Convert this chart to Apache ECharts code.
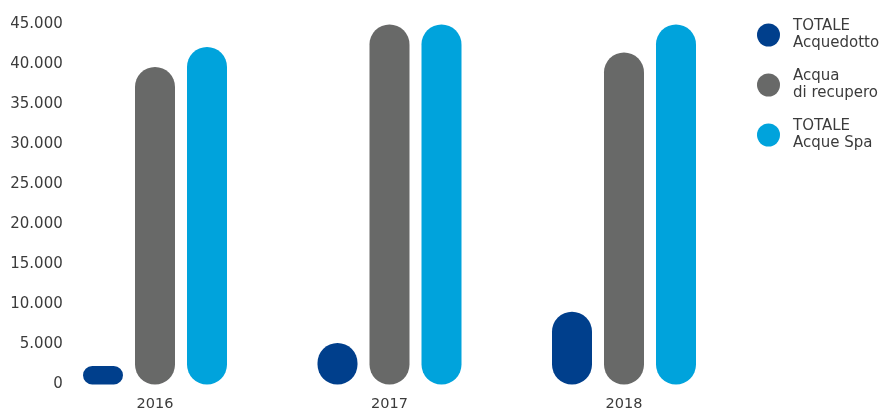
<!DOCTYPE html>
<html>
<head>
<meta charset="utf-8">
<script src="https://cdn.jsdelivr.net/npm/echarts@6/dist/echarts.min.js"></script>
<style>
  html, body { margin: 0; padding: 0; background: #ffffff; }
  #chart { width: 883px; height: 408px; }
</style>
</head>
<body>
<div id="chart"></div>
<script>
// Water volumes by year
const years = ['2016', '2017', '2018'];
const seriesNames = ['TOTALE\nAcquedotto', 'Acqua\ndi recupero', 'TOTALE\nAcque Spa'];
const acquedotto = [2300, 5200, 9100];
const recupero = [39700, 45000, 41500];
const acqueSpa = [42200, 45000, 45000];
const yTicks = [0, 5000, 10000, 15000, 20000, 25000, 30000, 35000, 40000, 45000];
const colors = ['#003f8c', '#686968', '#00a3dc'];

const textColor = '#3b3b3b';
const fontFamily = 'DejaVu Sans';

function fmt(v) {
  return String(v).replace(/\B(?=(\d{3})+(?!\d))/g, '.');
}

const valuesBySeries = [acquedotto, recupero, acqueSpa];

const chart = echarts.init(document.getElementById('chart'), null, { renderer: 'canvas' });
chart.setOption({
  animation: false,
  color: colors,
  grid: {
    left: 37.75, width: 703.5, top: 24.5, bottom: 23.5,
    containLabel: false,
    outerBoundsMode: 'none'
  },
  legend: {
    orient: 'vertical',
    left: 757,
    top: 9.5,
    padding: 0,
    icon: 'circle',
    itemWidth: 23,
    itemHeight: 23,
    itemGap: -1,
    selectedMode: false,
    textStyle: {
      color: textColor,
      fontFamily: fontFamily,
      fontSize: 15,
      lineHeight: 17,
      padding: [17, 0, 0, 8]
    },
    data: seriesNames
  },
  xAxis: {
    type: 'category',
    data: years,
    axisLine: { show: false },
    axisTick: { show: false },
    axisLabel: { color: textColor, fontFamily: fontFamily, fontSize: 14.5, margin: 12 }
  },
  yAxis: {
    type: 'value',
    min: yTicks[0],
    max: yTicks[yTicks.length - 1],
    interval: yTicks[1] - yTicks[0],
    offset: -33,
    splitLine: { show: false },
    axisLine: { show: false },
    axisTick: { show: false },
    axisLabel: {
      color: textColor,
      fontFamily: fontFamily,
      fontSize: 15,
      margin: 8,
      formatter: fmt
    }
  },
  series: valuesBySeries.map((vals, i) => ({
    name: seriesNames[i],
    type: 'bar',
    data: vals,
    barWidth: 40,
    barGap: '30%',
    itemStyle: { color: colors[i], borderRadius: 20 }
  }))
});
</script>
</body>
</html>
